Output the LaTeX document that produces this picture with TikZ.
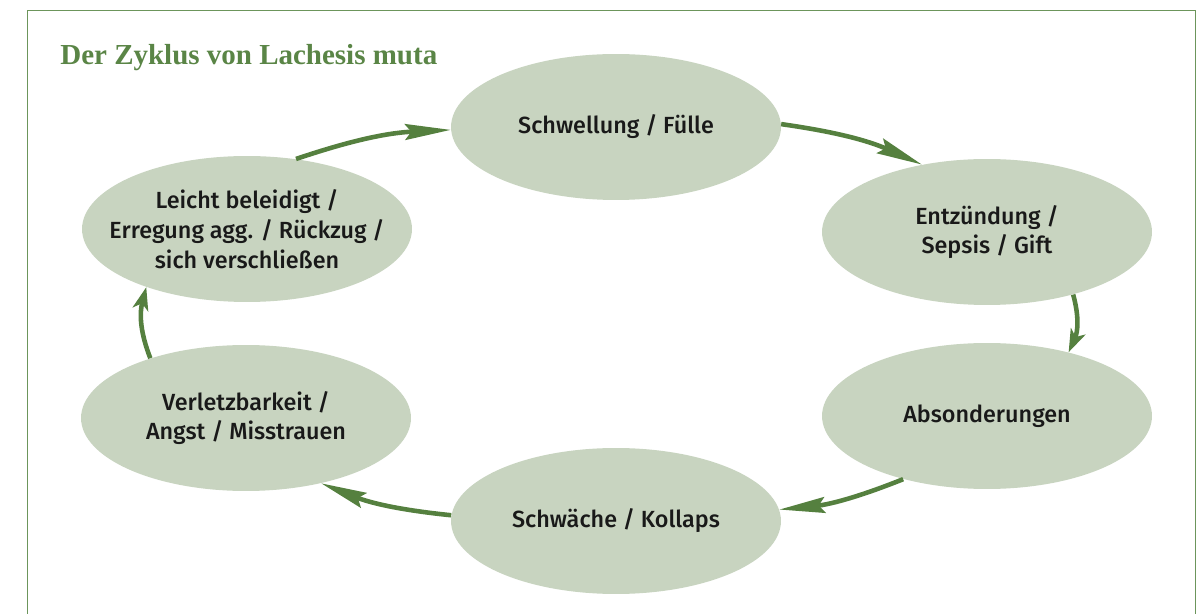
\documentclass[tikz,border=0pt]{standalone}
\usepackage{fontspec}
\setmainfont{Liberation Serif}
\newfontfamily\ovalfont{Fira Sans Medium}
\usetikzlibrary{shapes.geometric,arrows.meta}
\definecolor{zyklusgreen}{HTML}{55803F}
\definecolor{ovalfill}{HTML}{C8D4C0}
\definecolor{framegreen}{HTML}{6C955B}
\definecolor{titlegreen}{HTML}{5A8546}

\begin{document}
\begin{tikzpicture}[x=0.02cm, y=0.02cm,
	oval/.style={ellipse, fill=ovalfill, minimum width=6.6cm, minimum height=2.92cm,
		inner xsep=-0.6cm, inner ysep=0pt, align=center, text=black!90,
		font=\ovalfont\fontsize{13.3}{17}\selectfont},
	cyclearrow/.style={zyklusgreen, line width=2.6pt,
		-{Stealth[length=#1, width=9pt, inset=3.5pt]}},
	cyclearrow/.default=26pt]
		%%%%% START %%%%%
		\useasboundingbox (0, 0) rectangle (1203, -614);
		\clip (0, 0) rectangle (1203, -614);
		\draw[framegreen, line width=1.1pt] (27.5, -700) |- (1195.5, -10.5) -- (1195.5, -700);
		
		\node[anchor=base west, inner sep=0pt, text=titlegreen, font=\bfseries\fontsize{16.5}{18}\selectfont]
			(titel) at (60, -65) {Der Zyklus von Lachesis muta};
		
		\node[oval] (schwellung) at (616, -127) {Schwellung / Fülle};
		\node[oval] (entzuendung) at (987, -232) {Entzündung /\\ Sepsis / Gift};
		\node[oval] (absonderung) at (987, -416) {Absonderungen};
		\node[oval] (schwaeche) at (616, -521) {Schwäche / Kollaps};
		\node[oval] (verletzbar) at (246, -418) {Verletzbarkeit /\\ Angst / Misstrauen};
		\node[oval] (beleidigt) at (247, -229) {Leicht beleidigt /\\ Erregung agg. / Rückzug /\\ sich verschließen};
		
		\draw[cyclearrow] (beleidigt.55) to[bend left=8] (schwellung.181);
		\draw[cyclearrow] (schwellung.1) to[bend left=8] (entzuendung.134);
		\draw[cyclearrow=13pt] (entzuendung.-36) to[bend left=20] (absonderung.38);
		\draw[cyclearrow] (absonderung.217) to[bend left=8] (schwaeche.4);
		\draw[cyclearrow] (schwaeche.178) to[bend left=8] (verletzbar.-41);
		\draw[cyclearrow=13pt] (verletzbar.148) to[bend left=18] (beleidigt.210);
		%%%%% END %%%%%
\end{tikzpicture}
\end{document}
